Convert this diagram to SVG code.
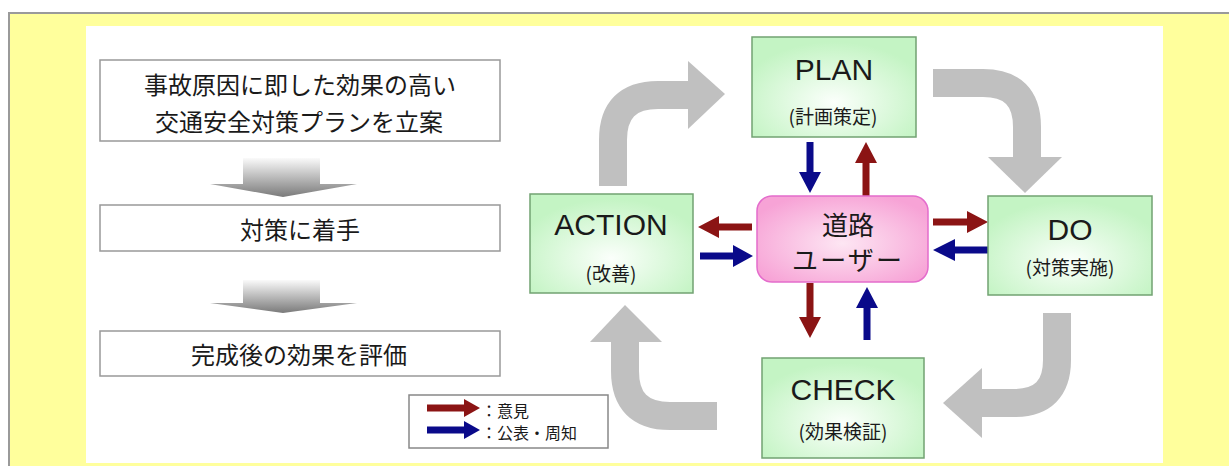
<svg xmlns="http://www.w3.org/2000/svg" width="1229" height="466" viewBox="0 0 1229 466">
<defs>
<radialGradient id="gGreen" cx="0.5" cy="0.65" r="0.6">
<stop offset="0" stop-color="#fbfffb"/>
<stop offset="1" stop-color="#c4f4c4"/>
</radialGradient>
<radialGradient id="gPink" cx="0.5" cy="0.55" r="0.6">
<stop offset="0" stop-color="#fde6f3"/>
<stop offset="1" stop-color="#f7a3d6"/>
</radialGradient>
<linearGradient id="gDown" x1="0" y1="0" x2="0" y2="1">
<stop offset="0" stop-color="#fafafa"/>
<stop offset="1" stop-color="#7a7a7a"/>
</linearGradient>
</defs>
<style>
.frame{fill:#ffff9c;stroke:#9a9a9a;stroke-width:2}
.step{fill:#fff;stroke:#999;stroke-width:1.5}
.pdca{fill:url(#gGreen);stroke:#72a272;stroke-width:1.5}
.user{fill:url(#gPink);stroke:#e46ccc;stroke-width:1.5}
.jp{font-family:"Noto Sans CJK JP","Liberation Sans",sans-serif;fill:#1a1a1a;text-anchor:middle;dominant-baseline:central}
.en{font-family:"Liberation Sans","Noto Sans CJK JP",sans-serif;fill:#1a1a1a;text-anchor:middle;font-size:30px}
.cycle{fill:none;stroke:#c0c0c0;stroke-width:28}
.cyh{fill:#c0c0c0}
.red{fill:#8b1414}
.blue{fill:#0a0a8a}
</style>
<rect class="frame" x="9" y="13" width="1232" height="462"/>
<rect x="86" y="26" width="1077" height="437" fill="#ffffff"/>

<g id="step1">
<rect class="step" x="100" y="60" width="400" height="81"/>
<text class="jp" x="300" y="83" font-size="24">事故原因に即した効果の高い</text>
<text class="jp" x="299" y="120" font-size="24">交通安全対策プランを立案</text>
</g>
<g id="flow1">
<polygon fill="url(#gDown)" points="243,158 320,158 320,184 357,184 283,197 210,184 243,184"/>
</g>
<g id="step2">
<rect class="step" x="100" y="205" width="400" height="46"/>
<text class="jp" x="300" y="228" font-size="24">対策に着手</text>
</g>
<g id="flow2">
<polygon fill="url(#gDown)" points="243,280 320,280 320,303 357,303 283,313 210,303 243,303"/>
</g>
<g id="step3">
<rect class="step" x="100" y="331" width="400" height="45"/>
<text class="jp" x="299" y="353" font-size="24">完成後の効果を評価</text>
</g>

<g id="legend">
<rect x="409" y="395" width="199" height="53" fill="#fff" stroke="#888" stroke-width="1.5"/>
<polygon class="red" points="427,404.5 464,404.5 464,399 480,408 464,417 464,411.5 427,411.5"/>
<polygon class="blue" points="427,426.5 464,426.5 464,421 480,430 464,439 464,433.5 427,433.5"/>
<text class="jp" x="481" y="410" font-size="16" style="text-anchor:start">：意見</text>
<text class="jp" x="481" y="432" font-size="16" style="text-anchor:start">：公表・周知</text>
</g>

<g id="cycle-arrows">
<path class="cycle" d="M613,186 V140 Q613,95 658,95 H690"/>
<polygon class="cyh" points="688,61 725,94 688,129"/>
<path class="cycle" d="M933,83 H983 Q1027,83 1027,127 V160"/>
<polygon class="cyh" points="988,157 1062,157 1025,193"/>
<path class="cycle" d="M1057,313 V360 Q1057,403 1014,403 H980"/>
<polygon class="cyh" points="982,368 943,403 982,438"/>
<path class="cycle" d="M717,416 H670 Q625,416 625,371 V340"/>
<polygon class="cyh" points="590,342 625,305 662,342"/>
</g>

<g id="connectors">
<polygon class="blue" points="806.5,142 813.5,142 813.5,172 821,172 810,193 799,172 806.5,172"/>
<polygon class="red" points="862.5,196 869.5,196 869.5,163 877,163 866,142 855,163 862.5,163"/>
<polygon class="red" points="752,223.5 719,223.5 719,216 698,227 719,238 719,230.5 752,230.5"/>
<polygon class="blue" points="700,252.5 733,252.5 733,245 753,256 733,267 733,259.5 700,259.5"/>
<polygon class="red" points="933,218.5 967,218.5 967,211 988,222 967,233 967,225.5 933,225.5"/>
<polygon class="blue" points="988,246.5 955,246.5 955,239 933,250 955,261 955,253.5 988,253.5"/>
<polygon class="red" points="806.5,283 813.5,283 813.5,317 821,317 810,338 799,317 806.5,317"/>
<polygon class="blue" points="863.5,340 870.5,340 870.5,308 878,308 867,287 856,308 863.5,308"/>
</g>

<g id="plan">
<rect class="pdca" x="752" y="37" width="164" height="100"/>
<text class="en" x="834" y="80">PLAN</text>
<text class="jp" x="833" y="115" font-size="19">(計画策定)</text>
</g>
<g id="do">
<rect class="pdca" x="988" y="196" width="164" height="99"/>
<text class="en" x="1070" y="240">DO</text>
<text class="jp" x="1070" y="266" font-size="19">(対策実施)</text>
</g>
<g id="check">
<rect class="pdca" x="762" y="358" width="162" height="100"/>
<text class="en" x="843" y="400">CHECK</text>
<text class="jp" x="843" y="430" font-size="19">(効果検証)</text>
</g>
<g id="action">
<rect class="pdca" x="530" y="194" width="163" height="99"/>
<text class="en" x="611" y="235">ACTION</text>
<text class="jp" x="611" y="272" font-size="19">(改善)</text>
</g>
<g id="road-user">
<rect class="user" x="757" y="196" width="171" height="86" rx="15" ry="15"/>
<text class="jp" x="848" y="223" font-size="26">道路</text>
<text class="jp" x="847" y="258" font-size="26" textLength="110">ユーザー</text>
</g>
</svg>
